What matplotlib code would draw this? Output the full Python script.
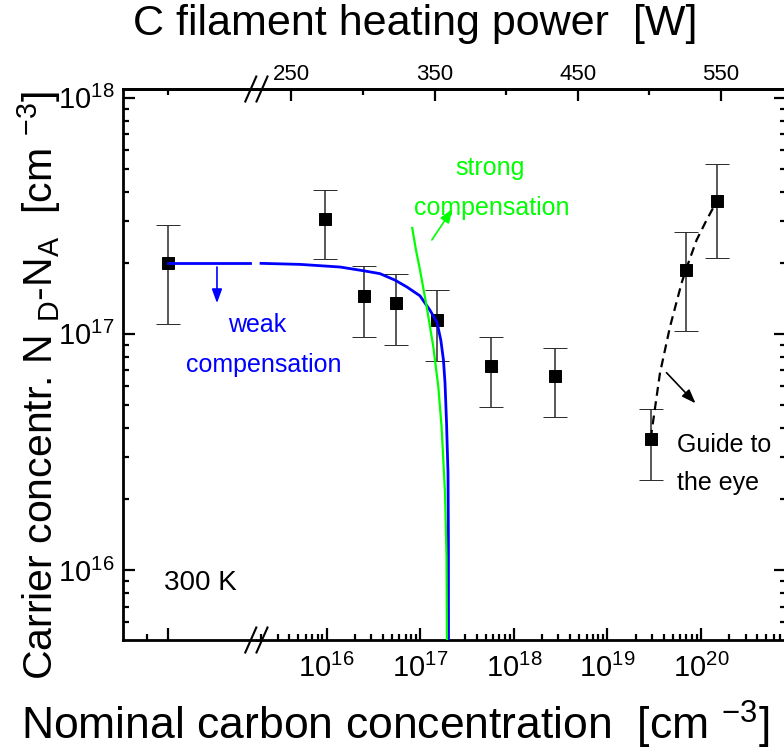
import numpy as np
import matplotlib
matplotlib.use('Agg')
import matplotlib.pyplot as plt
from matplotlib.lines import Line2D
from matplotlib.ticker import LogLocator, NullFormatter, MultipleLocator

plt.rcParams['font.family'] = ['Liberation Sans', 'DejaVu Sans']
plt.rcParams['mathtext.fontset'] = 'custom'
plt.rcParams['mathtext.rm'] = 'Liberation Sans'
plt.rcParams['mathtext.it'] = 'Liberation Sans:italic'
plt.rcParams['mathtext.bf'] = 'Liberation Sans:bold'
plt.rcParams['mathtext.default'] = 'regular'

# reference sample (no carbon) sits left of the axis break
ref_pos = 0.0
ref_n = 2.0e17
ref_err = 0.9e17

# carbon doped samples
carbon = [9.6e15, 2.5e16, 5.5e16, 1.5e17, 5.7e17, 2.75e18, 2.9e19, 6.9e19, 1.48e20]
carrier = [3.07e17, 1.45e17, 1.35e17, 1.15e17, 7.3e16, 6.6e16, 3.6e16, 1.87e17, 3.66e17]
carrier_err = [1.0e17, 0.48e17, 0.45e17, 0.38e17, 2.4e16, 2.15e16, 1.2e16, 0.84e17, 1.56e17]

# weak compensation model (blue)
weak_left_pos = [0.0, 3.92]
weak_left_n = [2.0e17, 2.0e17]
weak_c = [1.99e15, 5.19e15, 1.39e16, 2.50e16, 3.71e16, 5.37e16, 7.21e16, 9.93e16,
          1.27e17, 1.51e17, 1.66e17, 1.77e17, 1.84e17, 1.91e17, 1.98e17, 2.00e17, 2.01e17]
weak_n = [1.99e17, 1.97e17, 1.92e17, 1.85e17, 1.80e17, 1.69e17, 1.58e17, 1.45e17,
          1.26e17, 1.12e17, 9.4e16, 7.76e16, 6.2e16, 4.2e16, 2.58e16, 1.34e16, 1e15]

# strong compensation model (green)
strong_c = [8.21e16, 9.0e16, 9.93e16, 1.17e17, 1.38e17, 1.56e17, 1.69e17, 1.84e17, 1.91e17, 1.97e17]
strong_n = [2.81e17, 2.27e17, 1.87e17, 1.31e17, 8.8e16, 5.98e16, 4.05e16, 2.12e16, 1.14e16, 1e15]

# guide to the eye (dashed)
guide_c = [2.9e19, 3.64e19, 4.66e19, 6.2e19, 6.9e19, 8.98e19, 1.15e20, 1.48e20]
guide_n = [3.6e16, 6.8e16, 1.07e17, 1.64e17, 1.87e17, 2.5e17, 3.04e17, 3.66e17]

power_ticks = [250, 350, 450, 550]

W, H = 784, 750
fig = plt.figure(figsize=(W / 100, H / 100), dpi=100)


def px_box(x0, y0, x1, y1):
    return [x0 / W, 1 - y1 / H, (x1 - x0) / W, (y1 - y0) / H]


ax_l = fig.add_axes(px_box(123, 89, 256.5, 640))
ax_r = fig.add_axes(px_box(256.5, 89, 785.5, 640), sharey=ax_l)

ax_l.set_yscale('log')
ax_l.set_ylim(5.05e15, 1.09e18)
ax_l.set_xlim(-2.14, 4.21)
ax_r.set_xscale('log')
ax_r.set_xlim(1.78e15, 8e20)

lw_sp = 2.0
tk = dict(direction='in', width=1.6, color='black')

# left (reference) part
ax_l.set_xticks([ref_pos])
ax_l.set_xticklabels([])
ax_l.set_xticks([ref_pos - 1], minor=True)
ax_l.tick_params(axis='x', which='major', length=8.5, **tk)
ax_l.tick_params(axis='x', which='minor', length=4.5, **tk)
ax_l.tick_params(axis='y', which='major', length=8.5, left=True, right=False,
                 labelsize=21, pad=6, **tk)
ax_l.tick_params(axis='y', which='minor', length=4.5, left=True, right=False, **tk)
ax_l.yaxis.set_major_locator(LogLocator(base=10, numticks=10))
ax_l.yaxis.set_minor_locator(LogLocator(base=10, subs=np.arange(2, 10), numticks=10))
ax_l.yaxis.set_minor_formatter(NullFormatter())

ax_lt = ax_l.twiny()
ax_lt.set_xlim(ax_l.get_xlim())
ax_lt.set_xticks([])
ax_lt.set_xticks([ref_pos], minor=True)
ax_lt.tick_params(axis='x', which='minor', length=4.5, **tk)

# right (carbon doped) part
ax_r.xaxis.set_major_locator(LogLocator(base=10, numticks=20))
ax_r.xaxis.set_minor_locator(LogLocator(base=10, subs=np.arange(2, 10), numticks=20))
ax_r.xaxis.set_minor_formatter(NullFormatter())
ax_t = ax_r.twiny()
ax_t.set_xlim(225.6, 595)
ax_t.set_xticks(power_ticks)
ax_t.xaxis.set_minor_locator(MultipleLocator(100))
ax_t.tick_params(axis='x', which='major', length=8.5, labelsize=16, pad=3, **tk)
ax_t.tick_params(axis='x', which='minor', length=4.5, **tk)

ax_r.tick_params(axis='x', which='major', length=8.5, labelsize=21, pad=10,
                 bottom=True, top=False, **tk)
ax_r.tick_params(axis='x', which='minor', length=4.5, bottom=True, top=False, **tk)
ax_r.tick_params(axis='y', which='major', length=8.5, left=False, right=True,
                 labelleft=False, **tk)
ax_r.tick_params(axis='y', which='minor', length=4.5, left=False, right=True,
                 labelleft=False, **tk)

for a in (ax_l, ax_lt, ax_r, ax_t):
    for s in a.spines.values():
        s.set_linewidth(lw_sp)
for a in (ax_l, ax_lt):
    a.spines['right'].set_visible(False)
for a in (ax_r, ax_t):
    a.spines['left'].set_visible(False)
ax_lt.spines['bottom'].set_visible(False)
ax_t.spines['bottom'].set_visible(False)
ax_t.spines['right'].set_visible(False)
ax_lt.spines['left'].set_visible(False)

eb = dict(fmt='s', ms=8.2, mfc='black', mec='black', mew=0.7, ecolor='#2a2a2a',
          elinewidth=1.1, capsize=8.6, capthick=1.1, zorder=3)
ax_l.errorbar([ref_pos], [ref_n], yerr=[ref_err], **eb)
ax_r.errorbar(carbon, carrier, yerr=carrier_err, **eb)

ax_l.plot(weak_left_pos, weak_left_n, color='#0000ff', lw=2.0, zorder=4)
ax_r.plot(weak_c, weak_n, color='#0000ff', lw=2.0, zorder=4)
ax_r.plot(strong_c, strong_n, color='#00ff00', lw=1.6, zorder=4)
ax_r.plot(guide_c, guide_n, color='black', lw=1.6, ls=(0, (4, 2.5)), zorder=4)

arr = '-|>,head_length=0.6,head_width=0.22'
ax_l.annotate('', xy=(2.33, 1.35e17), xytext=(2.33, 1.92e17),
              arrowprops=dict(arrowstyle=arr, color='#0000ff', lw=1.2,
                              mutation_scale=14, shrinkA=0, shrinkB=0))
ax_r.annotate('', xy=(2.22e17, 3.39e17), xytext=(1.33e17, 2.5e17),
              arrowprops=dict(arrowstyle=arr, color='#00ff00', lw=1.2,
                              mutation_scale=14, shrinkA=0, shrinkB=0))
ax_r.annotate('', xy=(8.75e19, 5.08e16), xytext=(4.28e19, 6.85e16),
              arrowprops=dict(arrowstyle=arr, color='black', lw=1.2,
                              mutation_scale=14, shrinkA=0, shrinkB=0))

ax_r.text(1.80e15, 1.09e17, 'weak', color='#0000ff', fontsize=18,
          ha='center', va='center')
ax_r.text(2.11e15, 7.35e16, 'compensation', color='#0000ff', fontsize=18,
          ha='center', va='center')
ax_r.text(5.62e17, 5.05e17, 'strong', color='#00ff00', fontsize=18,
          ha='center', va='center')
ax_r.text(5.77e17, 3.42e17, 'compensation', color='#00ff00', fontsize=18,
          ha='center', va='center')
ax_r.text(5.53e19, 3.39e16, 'Guide to', color='black', fontsize=18,
          ha='left', va='center')
ax_r.text(5.53e19, 2.34e16, 'the eye', color='black', fontsize=18,
          ha='left', va='center')
ax_l.text(ref_pos - 0.19, 8.8e15, '300 K', fontsize=20, ha='left', va='center')

# axis break marks
for cx in (250.8, 262.0):
    for cy in (89, 640):
        fig.add_artist(Line2D([(cx - 5.5) / W, (cx + 5.5) / W],
                              [1 - (cy + 12.5) / H, 1 - (cy - 12.5) / H],
                              color='black', lw=1.5, transform=fig.transFigure))

fig.text(395 / W, 1 - 740 / H, 'Nominal carbon concentration  [cm $^{-3}$]',
         fontsize=32, ha='center', va='baseline')
fig.text(415 / W, 1 - 35 / H, 'C filament heating power  [W]',
         fontsize=31, ha='center', va='baseline')
fig.text(53 / W, 1 - 680 / H, 'Carrier concentr. N $_{D}$-N$_{A}$  [cm $^{-3}$]',
         fontsize=29.5, ha='left', va='baseline', rotation=90, rotation_mode='anchor')

fig.savefig('out.png', dpi=100)
